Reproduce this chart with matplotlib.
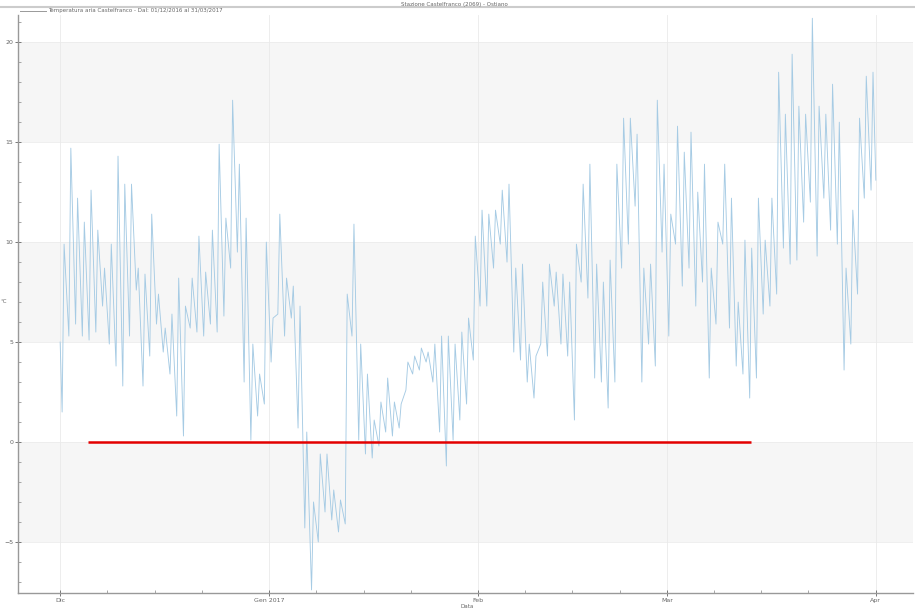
import numpy as np
import pandas as pd
import matplotlib
matplotlib.use("Agg")
import matplotlib.pyplot as plt
import matplotlib.dates as mdates
from matplotlib.lines import Line2D

# daily minimum / maximum air temperature (°C), 1 Dec 2016 -> 31 Mar 2017
t_max = [9.9, 14.7, 12.2, 11.0, 12.6, 10.6, 8.7, 9.9, 14.3, 12.9,
         12.9, 8.7, 8.4, 11.4, 7.4, 5.7, 6.4, 8.2, 6.8, 8.2,
         10.3, 8.5, 10.6, 14.9, 11.2, 17.1, 13.9, 11.2, 4.9, 3.4,
         10.0, 6.2, 11.4, 8.2, 7.8, 6.8, 0.5, -3.0, -0.6, -0.6,
         -2.4, -2.9, 7.4, 10.9, 4.9, 3.4, 1.1, 2.0, 3.2, 2.0,
         1.9, 4.0, 4.3, 4.7, 4.5, 4.9, 5.3, 5.3, 4.9, 5.5,
         6.2, 10.3, 11.6, 11.4, 11.6, 12.6, 12.9, 8.7, 8.9, 4.9,
         4.3, 8.0, 8.9, 8.5, 8.4, 8.0, 9.9, 12.9, 13.9, 8.9,
         8.0, 9.1, 13.9, 16.2, 16.2, 15.4, 8.7, 8.9, 17.1, 13.9,
         11.4, 15.8, 14.5, 15.5, 12.5, 13.9, 8.7, 11.0, 13.9, 12.2,
         7.0, 10.1, 9.7, 12.2, 10.1, 12.2, 18.5, 16.4, 19.4, 16.8,
         16.4, 21.2, 16.8, 16.4, 17.9, 16.0, 8.7, 11.6, 16.2, 18.3,
         18.5]
t_min = [1.5, 5.3, 5.9, 5.3, 5.1, 5.5, 6.8, 4.9, 3.8, 2.8,
         5.3, 7.6, 2.8, 4.3, 5.9, 4.5, 3.4, 1.3, 0.3, 5.7,
         5.5, 5.3, 5.9, 5.5, 6.3, 8.7, 9.5, 3.0, 0.1, 1.3,
         1.9, 4.0, 6.4, 5.3, 6.2, 0.7, -4.3, -7.4, -5.0, -3.5,
         -3.9, -4.5, -4.1, 5.3, 0.1, -0.6, -0.8, -0.2, 0.5, 0.3,
         0.7, 2.6, 3.4, 3.6, 4.0, 3.0, 0.5, -1.2, 0.1, 1.1,
         1.9, 4.1, 6.8, 6.8, 8.7, 9.9, 9.0, 4.5, 4.1, 3.0,
         2.2, 4.9, 4.3, 6.8, 4.9, 4.3, 1.1, 8.0, 7.2, 3.2,
         3.0, 1.7, 3.0, 8.7, 9.9, 11.8, 3.0, 4.9, 3.8, 9.5,
         5.3, 9.9, 7.8, 8.7, 6.8, 8.0, 3.2, 5.9, 9.9, 5.7,
         3.8, 3.4, 2.2, 3.2, 6.4, 6.8, 7.4, 9.7, 8.9, 9.1,
         11.0, 12.0, 9.3, 12.2, 10.6, 9.9, 3.6, 4.9, 7.4, 12.2,
         12.6]
start_temp = 5.0
end_temp = 13.1
first_day = "2016-12-01"

# red reference line at 0 °C
ref_value = 0
ref_start = "2016-12-05 03:00"
ref_end = "2017-03-13 12:00"

y_ticks = [-5, 0, 5, 10, 15, 20]
month_ticks = ["2016-12-01", "2017-01-01", "2017-02-01", "2017-03-01", "2017-04-01"]
month_labels = ["Dic", "Gen 2017", "Feb", "Mar", "Apr"]
title = "Stazione Castelfranco (2069) - Ostiano"
legend_text = "Temperatura aria Castelfranco - Dal: 01/12/2016 al 31/03/2017"

# build the time series: min in the morning, max in the afternoon
days = pd.date_range(first_day, periods=len(t_max), freq="D")
times = [days[0]]
temps = [start_temp]
for d, lo, hi in zip(days, t_min, t_max):
    times += [d + pd.Timedelta(hours=7), d + pd.Timedelta(hours=14)]
    temps += [lo, hi]
times.append(days[-1] + pd.Timedelta(days=1))
temps.append(end_temp)

fig = plt.figure(figsize=(9.15, 6.1), dpi=100)
ax = fig.add_axes([0.0197, 0.028, 0.978, 0.947])

# alternating bands
for lo in [-5, 5, 15]:
    ax.axhspan(lo, lo + 5, color="#f6f6f6", zorder=0, lw=0)
for y in y_ticks:
    ax.axhline(y, color="#ececec", lw=0.6, zorder=0.5)
for m in month_ticks:
    ax.axvline(pd.Timestamp(m), color="#eaeaea", lw=0.6, zorder=0.5)

ax.plot(times, temps, color="#a6cbe4", lw=0.65, zorder=2)
ax.hlines(ref_value, pd.Timestamp(ref_start), pd.Timestamp(ref_end),
          color="#e30000", lw=1.8, zorder=3)

ax.set_ylim(-7.55, 21.35)
ax.set_xlim(pd.Timestamp("2016-11-24 18:00"), pd.Timestamp("2017-04-06 12:00"))
ax.set_yticks(y_ticks)
ax.set_yticks(np.arange(-7, 22, 1), minor=True)
ax.set_xticks([pd.Timestamp(m) for m in month_ticks])
ax.set_xticklabels(month_labels)
ax.xaxis.set_minor_locator(mdates.DayLocator(bymonthday=[8, 15, 22]))

ax.tick_params(axis="both", which="major", labelsize=4.5, color="#777777",
               labelcolor="#666666", direction="inout", length=5, width=0.7, pad=1)
ax.tick_params(axis="both", which="minor", color="#999999",
               direction="in", length=2.5, width=0.6)
for s in ["top", "right"]:
    ax.spines[s].set_visible(False)
for s in ["left", "bottom"]:
    ax.spines[s].set_color("#999999")
    ax.spines[s].set_linewidth(1.0)

# header: title, separator and legend
fig.text(0.497, 0.997, title, ha="center", va="top", fontsize=4, color="#666666")
fig.add_artist(Line2D([0, 1], [0.989, 0.989], color="#cccccc", lw=1.5))
fig.add_artist(Line2D([0.022, 0.05], [0.982, 0.982], color="#999999", lw=0.7))
fig.text(0.053, 0.982, legend_text, ha="left", va="center", fontsize=4, color="#666666")
fig.text(0.511, 0.002, "Data", ha="center", va="bottom", fontsize=4, color="#666666")
fig.text(0.001, 0.505, "°C", ha="left", va="center", fontsize=4, color="#666666")

fig.savefig("out.png", dpi=100)
